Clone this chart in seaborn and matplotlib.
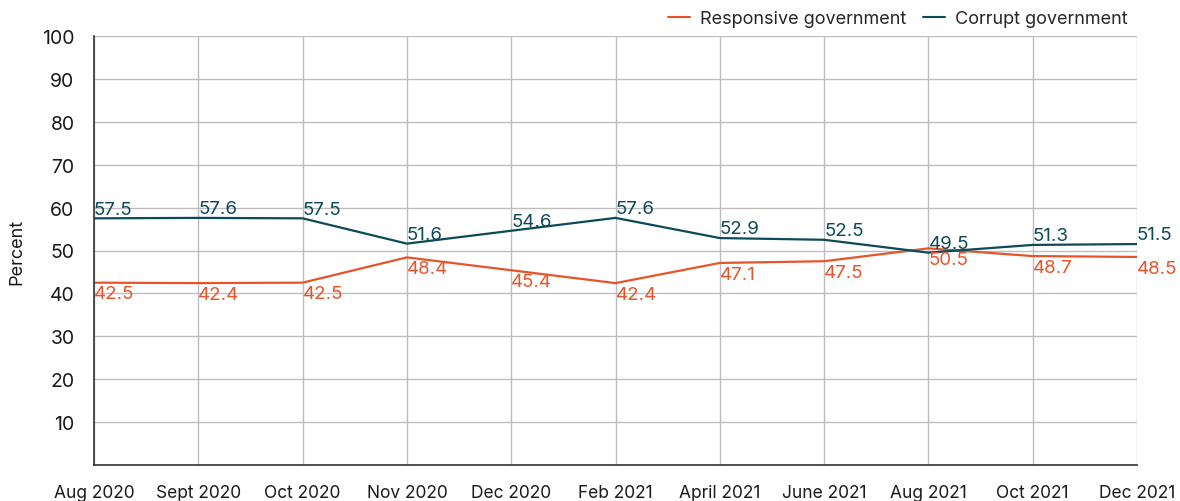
import matplotlib
matplotlib.use("Agg")
import matplotlib.pyplot as plt
import seaborn as sns
import pandas as pd

# Data
months = ["Aug 2020", "Sept 2020", "Oct 2020", "Nov 2020", "Dec 2020", "Feb 2021",
          "April 2021", "June 2021", "Aug 2021", "Oct 2021", "Dec 2021"]
responsive = [42.5, 42.4, 42.5, 48.4, 45.4, 42.4, 47.1, 47.5, 50.5, 48.7, 48.5]
corrupt = [57.5, 57.6, 57.5, 51.6, 54.6, 57.6, 52.9, 52.5, 49.5, 51.3, 51.5]
y_ticks = [10, 20, 30, 40, 50, 60, 70, 80, 90, 100]

orange = "#E8542A"
teal = "#0C4A57"

sns.set_theme(style="white")
plt.rcParams['font.family'] = ['Inter', 'DejaVu Sans']

idx = list(range(len(months)))
df = pd.DataFrame({
    "pos": idx * 2,
    "value": responsive + corrupt,
    "series": ["Responsive government"] * len(months) + ["Corrupt government"] * len(months),
})

fig = plt.figure(figsize=(11.8, 5.02), dpi=100)
ax = fig.add_axes([94 / 1180, 1 - 466 / 502, (1137 - 94) / 1180, (466 - 37) / 502])

sns.lineplot(data=df, x="pos", y="value", hue="series",
             palette={"Responsive government": orange, "Corrupt government": teal},
             linewidth=1.6, ax=ax)

# value labels
for i, v in enumerate(corrupt):
    ax.annotate(f"{v}", (i, v), xytext=(0, 0.5), textcoords="offset points",
                ha="left", va="bottom", color=teal, fontsize=13.5, clip_on=False)
for i, v in enumerate(responsive):
    ax.annotate(f"{v}", (i, v), xytext=(0, -2), textcoords="offset points",
                ha="left", va="top", color=orange, fontsize=13.5, clip_on=False)

ax.set_xlim(0, len(months) - 1)
ax.set_ylim(0, 100)
ax.set_xticks(idx)
ax.set_xticklabels(months, fontsize=12.5, color="#1a1a1a")
ax.set_yticks(y_ticks)
ax.set_yticklabels([str(t) for t in y_ticks], fontsize=14, color="#1a1a1a")
ax.tick_params(axis="x", length=0, pad=14)
ax.tick_params(axis="y", length=0, pad=14)

ax.grid(True, color="#bdbdbd", linewidth=1)
ax.set_axisbelow(True)
for side in ["top", "right"]:
    ax.spines[side].set_visible(False)
for side in ["left", "bottom"]:
    ax.spines[side].set_color("#333333")
    ax.spines[side].set_linewidth(1.2)

ax.set_xlabel("")
ax.set_ylabel("Percent", fontsize=13, color="#1a1a1a", labelpad=12)

leg = ax.legend(loc="lower right", bbox_to_anchor=(1.0, 1.0), ncol=2, frameon=False,
                fontsize=13, handlelength=1.2, handletextpad=0.6, columnspacing=0.9,
                borderaxespad=0.1)
for line in leg.get_lines():
    line.set_linewidth(1.5)

fig.savefig("out.png", dpi=100)
